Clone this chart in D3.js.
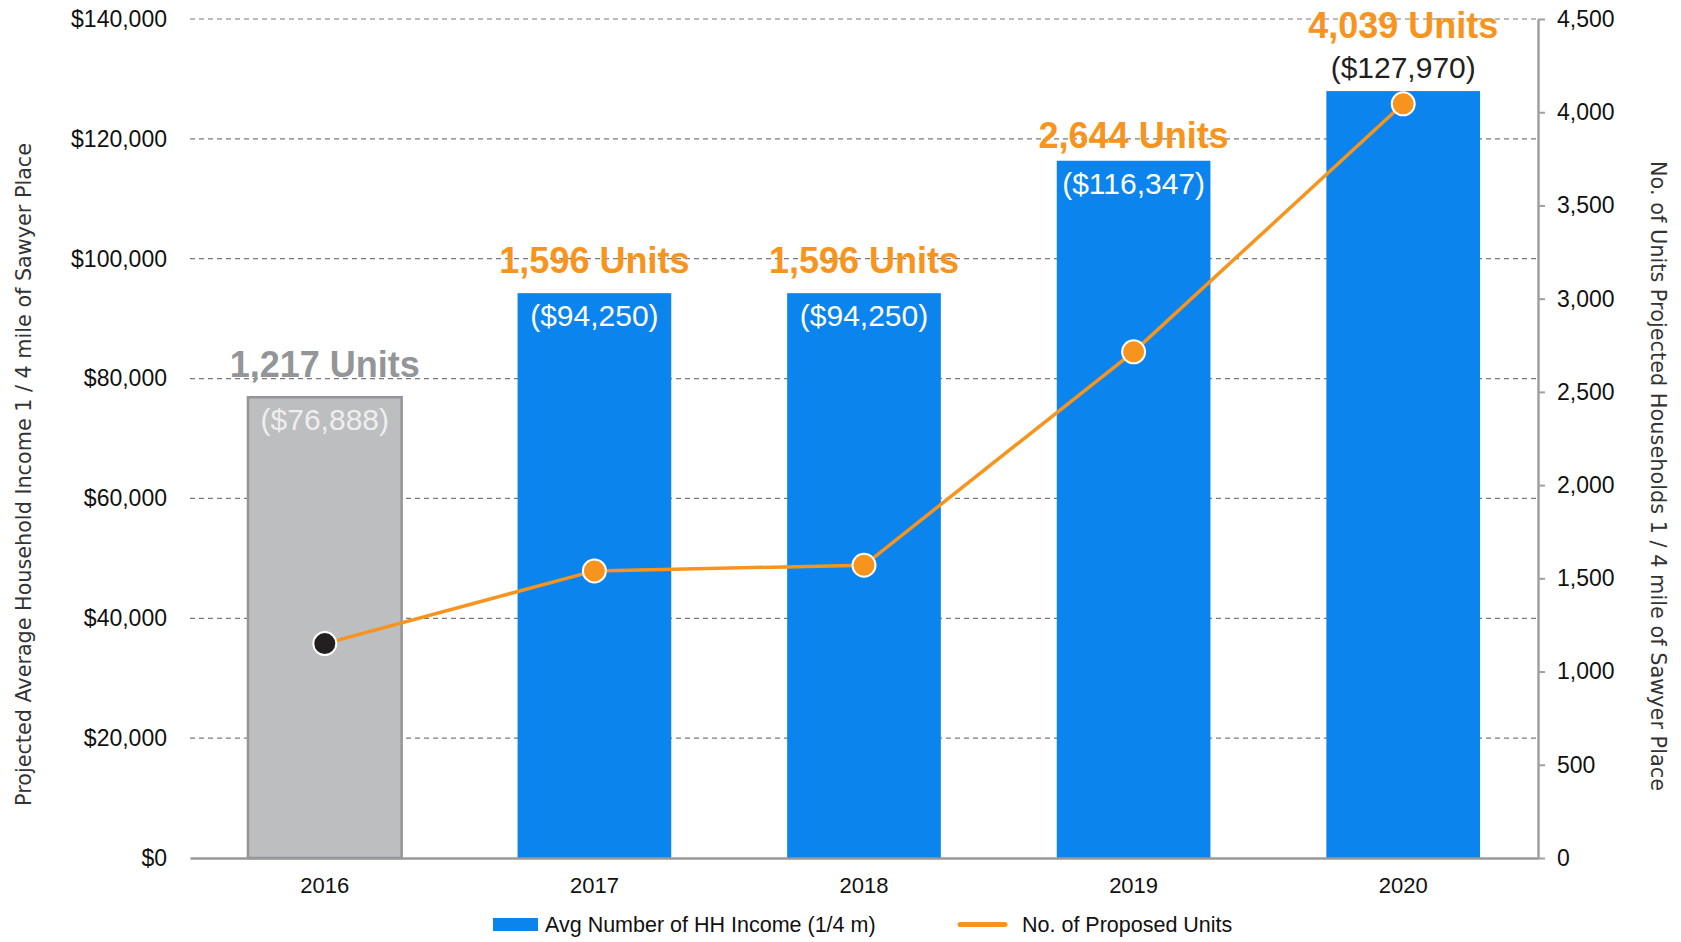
<!DOCTYPE html>
<html>
<head>
<meta charset="utf-8">
<script src="https://cdn.jsdelivr.net/npm/d3@7"></script>
<style>
  html, body { margin: 0; padding: 0; background: #fff; }
  svg { display: block; }
  text { font-family: "Liberation Sans", Arial, sans-serif; }
</style>
</head>
<body>
<svg id="chart" width="1681" height="942"></svg>
<script>
// ---- data ----
const years = ["2016", "2017", "2018", "2019", "2020"];
const avgIncome = [76888, 94250, 94250, 116347, 127970];
const proposedUnits = [1150, 1540, 1570, 2715, 4045];
const unitLabels = ["1,217 Units", "1,596 Units", "1,596 Units", "2,644 Units", "4,039 Units"];
const incomeLabels = ["($76,888)", "($94,250)", "($94,250)", "($116,347)", "($127,970)"];
const incomeTicks = [0, 20000, 40000, 60000, 80000, 100000, 120000, 140000];
const unitTicks = [0, 500, 1000, 1500, 2000, 2500, 3000, 3500, 4000, 4500];
const leftTitle = "Projected Average Household Income 1 / 4 mile of Sawyer Place";
const rightTitle = "No. of Units Projected Households 1 / 4 mile of Sawyer Place";
const legendBar = "Avg Number of HH Income (1/4 m)";
const legendLine = "No. of Proposed Units";

// ---- layout ----
const L = 190, R = 1538, T = 19, B = 858;
const BLUE = "#0b84ee", ORANGE = "#f7941d", GRAYBAR = "#bcbec0", GRAYEDGE = "#939598";

const svg = d3.select("#chart");

const x = d3.scaleBand().domain(years).range([L, R]).paddingInner(0.43).paddingOuter(0.215);
const yL = d3.scaleLinear().domain([0, 140000]).range([B, T]);
const yR = d3.scaleLinear().domain([0, 4500]).range([B, T]);

// gridlines
svg.append("g")
  .selectAll("line")
  .data(incomeTicks.filter(d => d > 0))
  .join("line")
  .attr("x1", L).attr("x2", R)
  .attr("y1", d => yL(d)).attr("y2", d => yL(d))
  .attr("stroke", "#7a7a7a").attr("stroke-width", 1.2)
  .attr("stroke-dasharray", "5,4");

// left axis labels
const leftAxis = d3.axisLeft(yL).tickValues(incomeTicks)
  .tickFormat(d => "$" + d3.format(",")(d)).tickSize(0).tickPadding(23);
const gl = svg.append("g").attr("transform", `translate(${L},0)`).call(leftAxis);
gl.select(".domain").remove();
gl.selectAll("text").attr("font-size", 23).attr("fill", "#111")
  .style("font-family", '"Liberation Sans", Arial, sans-serif');

// bars
svg.append("g")
  .selectAll("rect")
  .data(years)
  .join("rect")
  .attr("x", d => x(d))
  .attr("width", x.bandwidth())
  .attr("y", (d, i) => yL(avgIncome[i]))
  .attr("height", (d, i) => B - yL(avgIncome[i]))
  .attr("fill", (d, i) => i === 0 ? GRAYBAR : BLUE)
  .attr("stroke", (d, i) => i === 0 ? GRAYEDGE : "none")
  .attr("stroke-width", 2.5);

// bottom axis
const bottomAxis = d3.axisBottom(x).tickSize(0).tickPadding(19);
const gb = svg.append("g").attr("transform", `translate(0,${B})`).call(bottomAxis);
gb.select(".domain").attr("stroke", "#999").attr("stroke-width", 2.5);
gb.selectAll("text").attr("font-size", 22).attr("fill", "#111")
  .style("font-family", '"Liberation Sans", Arial, sans-serif');

// right axis
const rightAxis = d3.axisRight(yR).tickValues(unitTicks)
  .tickFormat(d3.format(",")).tickSize(7).tickSizeOuter(0).tickPadding(12);
const gr = svg.append("g").attr("transform", `translate(${R},0)`).call(rightAxis);
gr.select(".domain").attr("stroke", "#a0a0a0").attr("stroke-width", 2.5);
gr.selectAll(".tick line").attr("stroke", "#a0a0a0").attr("stroke-width", 2);
gr.selectAll("text").attr("font-size", 23).attr("fill", "#111")
  .style("font-family", '"Liberation Sans", Arial, sans-serif');

// line
const cx = d => x(d) + x.bandwidth() / 2;
const line = d3.line().x((d, i) => cx(years[i])).y(d => yR(d));
svg.append("path")
  .datum(proposedUnits)
  .attr("d", line)
  .attr("fill", "none")
  .attr("stroke", ORANGE)
  .attr("stroke-width", 3.5);

svg.append("g")
  .selectAll("circle")
  .data(proposedUnits)
  .join("circle")
  .attr("cx", (d, i) => cx(years[i]))
  .attr("cy", d => yR(d))
  .attr("r", 11.5)
  .attr("fill", (d, i) => i === 0 ? "#231f20" : ORANGE)
  .attr("stroke", "#fff")
  .attr("stroke-width", 2);

// unit labels
const unitOffset = [20, 20, 20, 13, 53];
svg.append("g")
  .selectAll("text")
  .data(unitLabels)
  .join("text")
  .attr("x", (d, i) => cx(years[i]))
  .attr("y", (d, i) => yL(avgIncome[i]) - unitOffset[i])
  .attr("text-anchor", "middle")
  .attr("font-size", 36)
  .attr("font-weight", "bold")
  .attr("fill", (d, i) => i === 0 ? GRAYEDGE : ORANGE)
  .text(d => d);

// income labels
svg.append("g")
  .selectAll("text")
  .data(incomeLabels)
  .join("text")
  .attr("x", (d, i) => cx(years[i]))
  .attr("y", (d, i) => i === 4 ? yL(avgIncome[i]) - 13 : yL(avgIncome[i]) + 33)
  .attr("text-anchor", "middle")
  .attr("font-size", 30)
  .attr("fill", (d, i) => i === 4 ? "#231f20" : (i === 0 ? "#eeeeef" : "#ffffff"))
  .text(d => d);

// axis titles
svg.append("text")
  .attr("transform", `translate(31,${(143 + 806) / 2}) rotate(-90)`)
  .attr("text-anchor", "middle")
  .attr("font-size", 21)
  .attr("fill", "#333")
  .style("font-family", '"DejaVu Sans", "Liberation Sans", sans-serif')
  .attr("textLength", 663)
  .attr("lengthAdjust", "spacingAndGlyphs")
  .text(leftTitle);

svg.append("text")
  .attr("transform", `translate(1651,${(161 + 791) / 2}) rotate(90)`)
  .attr("text-anchor", "middle")
  .attr("font-size", 21)
  .attr("fill", "#333")
  .style("font-family", '"DejaVu Sans", "Liberation Sans", sans-serif')
  .attr("textLength", 630)
  .attr("lengthAdjust", "spacingAndGlyphs")
  .text(rightTitle);

// legend
const lg = svg.append("g");
lg.append("rect").attr("x", 493).attr("y", 918).attr("width", 45).attr("height", 13).attr("fill", BLUE);
lg.append("text").attr("x", 545).attr("y", 932).attr("font-size", 21.5).attr("fill", "#111").text(legendBar);
lg.append("line").attr("x1", 960).attr("x2", 1005).attr("y1", 924.5).attr("y2", 924.5)
  .attr("stroke", ORANGE).attr("stroke-width", 5).attr("stroke-linecap", "round");
lg.append("text").attr("x", 1022).attr("y", 932).attr("font-size", 21.5).attr("fill", "#111").text(legendLine);
</script>
</body>
</html>
